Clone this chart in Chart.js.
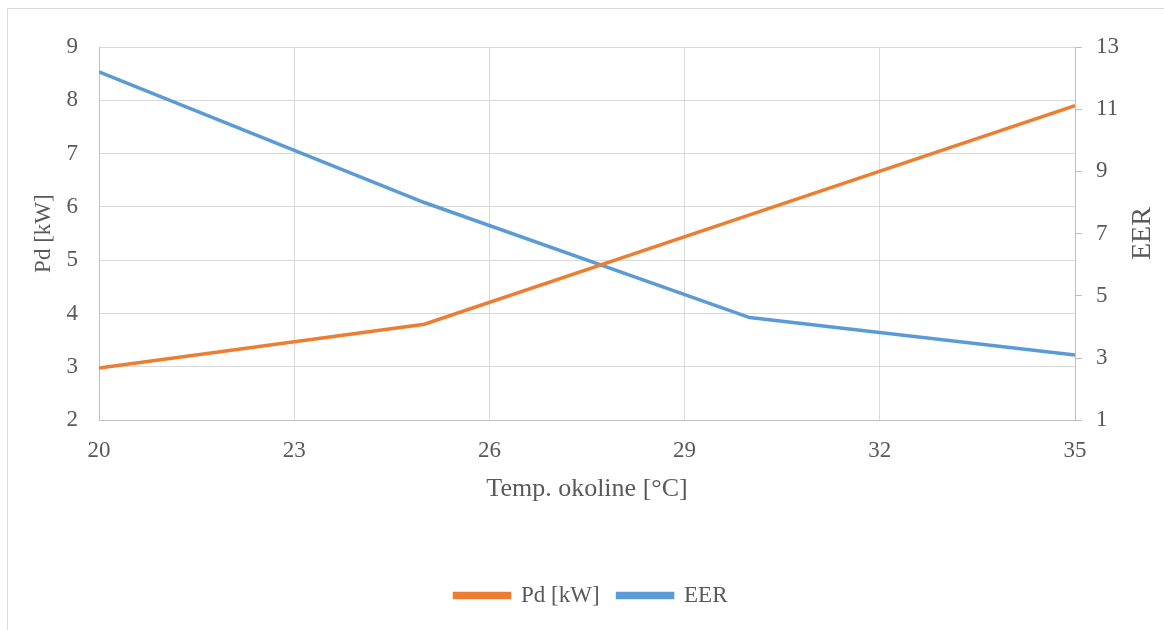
<!DOCTYPE html>
<html lang="hr">
<head>
  <meta charset="UTF-8" />
  <title>Pd i EER</title>
  <script src="https://cdn.jsdelivr.net/npm/chart.js"></script>
  <style>
    html, body { margin: 0; padding: 0; background: #fff; overflow: hidden; }
    #frame { position: absolute; left: 7px; top: 8px; width: 1200px; height: 700px; border: 1px solid #d9d9d9; }
    #wrap { position: absolute; left: 0; top: 0; width: 1164px; height: 630px; }
  </style>
</head>
<body>
  <div id="frame"></div>
  <div id="wrap"><canvas id="chart" width="1164" height="630"></canvas></div>

  <script>
    // podaci procitani s grafa
    const tempC = [20, 25, 30, 35];
    const pdKW = [2.98, 3.8, 5.85, 7.9];
    const eer = [12.2, 8.0, 4.3, 3.1];

    const txt = '#595959';
    const grid = '#d9d9d9';
    const axisLine = '#bfbfbf';
    const serif = '"Liberation Serif", "Times New Roman", serif';

    const toPoints = (xs, ys) => xs.map((x, i) => ({ x: x, y: ys[i] }));

    // naslov desne osi, citan odozdo prema gore kao u Excelu
    const rightTitle = {
      id: 'rightTitle',
      afterDraw(chart) {
        const s = chart.scales.yEer;
        const ctx = chart.ctx;
        ctx.save();
        ctx.translate(1143, (s.top + s.bottom) / 2);
        ctx.rotate(-Math.PI / 2);
        ctx.font = '28px ' + serif;
        ctx.fillStyle = txt;
        ctx.textAlign = 'center';
        ctx.textBaseline = 'middle';
        ctx.fillText('EER', 0, 0);
        ctx.restore();
      }
    };

    new Chart(document.getElementById('chart'), {
      type: 'line',
      data: {
        datasets: [
          {
            label: 'Pd [kW]',
            data: toPoints(tempC, pdKW),
            borderColor: '#ED7D31',
            backgroundColor: '#ED7D31',
            borderWidth: 3.5,
            pointRadius: 0,
            tension: 0,
            yAxisID: 'yPd'
          },
          {
            label: 'EER',
            data: toPoints(tempC, eer),
            borderColor: '#5B9BD5',
            backgroundColor: '#5B9BD5',
            borderWidth: 3.5,
            pointRadius: 0,
            tension: 0,
            yAxisID: 'yEer'
          }
        ]
      },
      plugins: [rightTitle],
      options: {
        responsive: false,
        animation: false,
        layout: { padding: { top: 47, left: 18, right: 0, bottom: 13 } },
        plugins: {
          tooltip: { enabled: false },
          legend: {
            position: 'bottom',
            labels: {
              color: txt,
              font: { family: serif, size: 23 },
              boxWidth: 55,
              boxHeight: 4,
              padding: 18
            }
          }
        },
        scales: {
          x: {
            type: 'linear',
            min: 20,
            max: 35,
            ticks: { stepSize: 3, color: txt, font: { family: serif, size: 23 }, padding: 17 },
            grid: { color: grid, drawTicks: false },
            border: { color: axisLine },
            title: {
              display: true,
              text: 'Temp. okoline [°C]',
              color: txt,
              font: { family: serif, size: 26 },
              padding: { top: -8, bottom: 61 }
            }
          },
          yPd: {
            position: 'left',
            min: 2,
            max: 9,
            ticks: { stepSize: 1, color: txt, font: { family: serif, size: 23 }, padding: 21 },
            grid: { color: grid, drawTicks: false },
            border: { color: axisLine },
            title: {
              display: true,
              text: 'Pd [kW]',
              color: txt,
              font: { family: serif, size: 23 },
              padding: { top: 12, bottom: 0 }
            },
            afterFit: s => { s.width = 81; }
          },
          yEer: {
            position: 'right',
            min: 1,
            max: 13,
            ticks: { stepSize: 2, color: txt, font: { family: serif, size: 23 }, padding: 14 },
            grid: { drawOnChartArea: false, color: axisLine, tickLength: 7 },
            border: { color: axisLine },
            afterFit: s => { s.width = 89; }
          }
        }
      }
    });
  </script>
</body>
</html>
